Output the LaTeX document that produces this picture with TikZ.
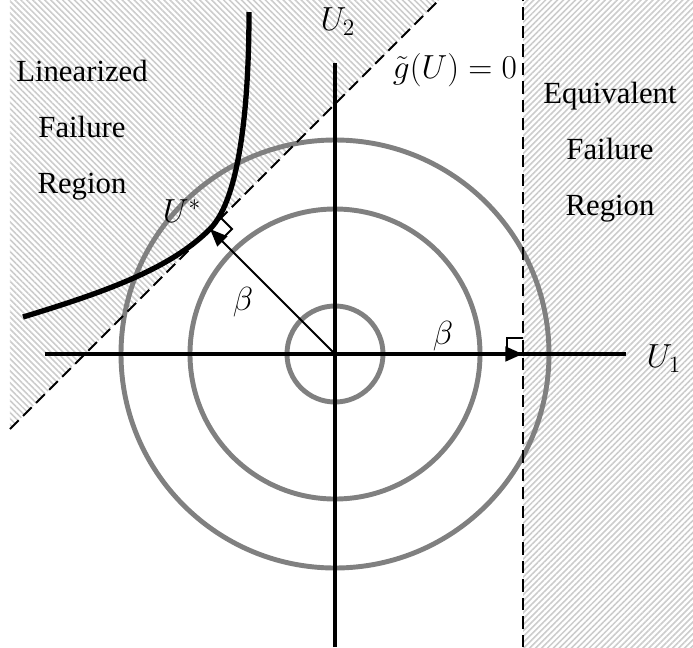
\RequirePackage{fix-cm}
\documentclass[tikz,border=0pt]{standalone}
\usepackage{fontspec}
\setmainfont{Liberation Serif}
\usetikzlibrary{arrows.meta,patterns.meta}

\begin{document}
\begin{tikzpicture}[x=0.02cm, y=0.02cm,
			axis/.style={line width=2.3pt},
			ring/.style={line width=2.8pt, draw=black!50},
			limit/.style={line width=1.1pt, dash pattern=on 7pt off 3.5pt},
			hatch/.style={pattern={Lines[angle=#1, distance=2.4pt, line width=0.9pt]}, pattern color=black!20},
			vec/.style={-{Triangle[length=10pt, width=8pt]}},
			region/.style={font=\fontsize{17.5}{32}\selectfont, align=center},
			sym/.style={font=\fontsize{19}{23}\selectfont}]

		\useasboundingbox (-335, -293) rectangle (358, 354);

		\coordinate (O) at (0, 0);
		\coordinate (E) at (188, 0);
		\coordinate (Ustar) at (-125, 125);
		\coordinate (x1) at (-290, 0);
		\coordinate (x2) at (291, 0);
		\coordinate (y1) at (0, 291);
		\coordinate (y2) at (0, -293);
		\coordinate (gtop) at (104, 354);
		\coordinate (gbot) at (-325, -75);
		\coordinate (etop) at (188, 354);
		\coordinate (ebot) at (188, -293);

		\fill[hatch=-45] (-325, 354) -- (gtop) -- (gbot) -- cycle;
		\fill[hatch=45] (ebot) rectangle (358, 354);

		\draw[ring] (O) circle (48);
		\draw[ring] (O) circle (145);
		\draw[ring] (O) circle (214);

		\draw[axis] (x1) -- (x2);
		\draw[axis] (y2) -- (y1);
		\draw[axis, vec] (O) -- (E);
		\draw[line width=1.1pt, vec] (O) -- (Ustar);
		\draw[limit] (gbot) -- (gtop);
		\draw[limit] (ebot) -- (etop);
		\draw[line width=1.2pt] ([shift={(-16, 0)}]E) -- ++(0, 16) -- ++(16, 0);
		\draw[line width=1.2pt] ([shift={(11, 11)}]Ustar) -- ++(11, -11) -- ++(-11, -11);

		\draw[line width=3pt] (-312, 37) .. controls (-230, 62) and (-165, 85) .. (Ustar)
			.. controls (-95, 155) and (-86, 250) .. (-86, 342);

		\node[region] (lin) at (-253, 224) {Linearized\\Failure\\Region};
		\node[region] (equ) at (275, 202) {Equivalent\\Failure\\Region};
		\node[sym] (u2) at (3, 332) {$U_2$};
		\node[sym] (u1) at (329, -5) {$U_1$};
		\node[sym] (g) at (120, 284) {$\tilde{g}(U)=0$};
		\node[sym] (us) at (-153, 143) {$U^*$};
		\node[sym] (b1) at (-92, 52) {$\beta$};
		\node[sym] (b2) at (108, 18) {$\beta$};
	\end{tikzpicture}
\end{document}
